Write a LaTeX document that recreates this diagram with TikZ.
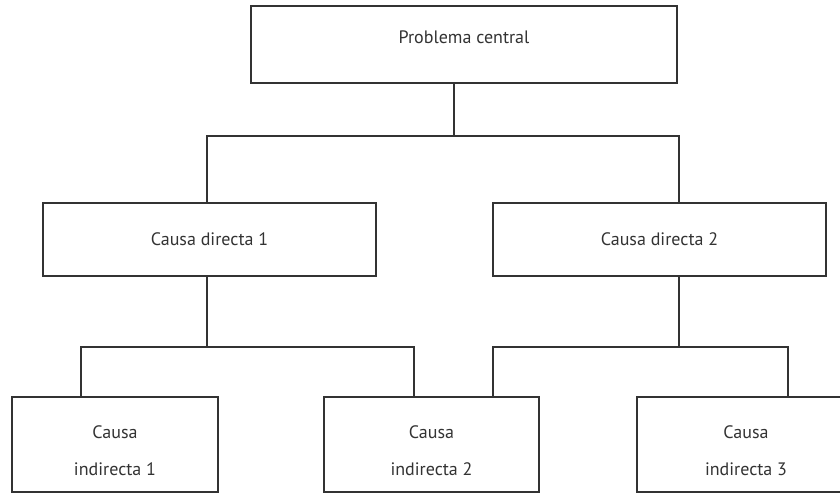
\documentclass[tikz,border=0pt]{standalone}
\usepackage{fontspec}
\setmainfont{PT Sans}
\begin{document}
\begin{tikzpicture}[x=1pt,y=-1pt,
  box/.style={draw=black!80,line width=1.2pt,rectangle,inner sep=0pt,
    text=black!80,font=\fontsize{18}{37}\selectfont,align=center},
  twoline/.style={box,minimum height=95pt,
    label={[text=black!80,font=\fontsize{18}{37}\selectfont,align=center,
      inner sep=0pt,yshift=-6pt]center:#1}},
  link/.style={draw=black!80,line width=1.2pt}]
\useasboundingbox (0,0) rectangle (840,494);
\fill[white] (0,0) rectangle (840,494);

% boxes
\node[box,minimum width=426pt,minimum height=77pt,text height=12pt,text depth=14pt] (top) at (464,44.5) {Problema central};
\node[box,minimum width=333pt,minimum height=73pt] (d1) at (209.5,239.5) {Causa directa 1};
\node[box,minimum width=333pt,minimum height=73pt] (d2) at (659.5,239.5) {Causa directa 2};
\node[twoline={Causa\\indirecta 1},minimum width=206pt] (i1) at (115,444.5) {};
\node[twoline={Causa\\indirecta 2},minimum width=215pt] (i2) at (431.5,444.5) {};
\node[twoline={Causa\\indirecta 3},minimum width=218pt] (i3) at (746,444.5) {};

% junction points of the tree
\coordinate (s0) at (454,136);
\coordinate (a1) at (207,136);
\coordinate (a2) at (679,136);
\coordinate (s1) at (207,347);
\coordinate (b1) at (81,347);
\coordinate (b2) at (414,347);
\coordinate (s2) at (679,347);
\coordinate (c1) at (493,347);
\coordinate (c2) at (788,347);

% connectors
\draw[link] (top.south -| s0) -- (s0);
\draw[link] (d1.north -| a1) -- (a1) -- (a2) -- (d2.north -| a2);
\draw[link] (d1.south -| s1) -- (s1);
\draw[link] (i1.north -| b1) -- (b1) -- (b2) -- (i2.north -| b2);
\draw[link] (d2.south -| s2) -- (s2);
\draw[link] (i2.north -| c1) -- (c1) -- (c2) -- (i3.north -| c2);
\end{tikzpicture}
\end{document}
